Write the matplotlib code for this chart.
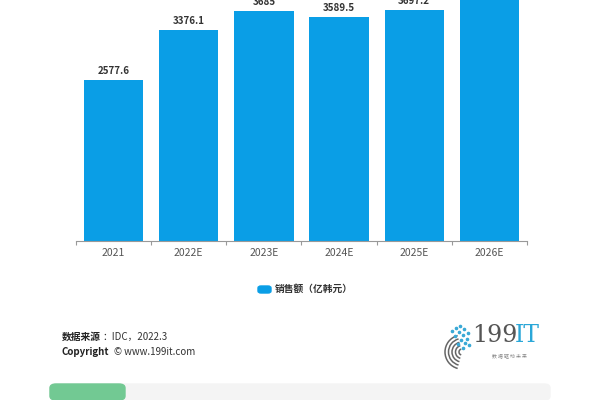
import numpy as np
import matplotlib.pyplot as plt
from matplotlib.patches import FancyBboxPatch, Arc

plt.rcParams['font.family'] = ['Noto Sans CJK SC', 'DejaVu Sans']

years = ["2021", "2022E", "2023E", "2024E", "2025E", "2026E"]
sales = [2577.6, 3376.1, 3685, 3589.5, 3697.2, 4100]
labels = ["2577.6", "3376.1", "3685", "3589.5", "3697.2", ""]

BLUE = "#0a9ee6"

fig = plt.figure(figsize=(6, 4), dpi=100)
# axes spans x 76..527 px, y 241..0 px
ax = fig.add_axes([76 / 600, 1 - 241 / 400, (527 - 76) / 600, 241 / 400])

x = np.arange(len(years))
bars = ax.bar(x, sales, width=0.79, color=BLUE, zorder=2)
for b, lab in zip(bars, labels):
    ax.text(b.get_x() + b.get_width() / 2, b.get_height() + 60, lab,
            ha="center", va="bottom", fontsize=7, fontweight="bold",
            color="#333333", clip_on=False)

ax.set_xlim(-0.5, len(years) - 0.5)
ax.set_ylim(0, 3856)
for s in ["top", "right", "left"]:
    ax.spines[s].set_visible(False)
ax.spines["bottom"].set_color("#999999")
ax.spines["bottom"].set_linewidth(0.8)
ax.set_yticks([])
ax.set_xticks(np.arange(-0.5, len(years)))
ax.set_xticklabels([])
ax.tick_params(axis="x", length=3, color="#999999", width=0.8)
ax.set_xticks(x, minor=True)
ax.set_xticklabels(years, minor=True)
ax.tick_params(axis="x", which="minor", length=0, pad=5, labelsize=7.5,
               labelcolor="#555555")

# legend
fig.patches.append(FancyBboxPatch((258 / 600, 1 - 293 / 400), 13 / 600, 7 / 400,
                                  boxstyle="round,pad=0,rounding_size=0.005",
                                  transform=fig.transFigure, color=BLUE))
fig.text(275 / 600, 1 - 289 / 400, "销售额（亿韩元）", fontsize=7, fontweight="bold",
         color="#333333", va="center", ha="left")

# source
t1 = fig.text(62 / 600, 1 - 337 / 400, "数据来源", fontsize=7, fontweight="bold",
              color="#222222", va="center")
ax.annotate("：IDC，2022.3", xy=(1, 0.5), xycoords=t1, xytext=(1, 0),
            textcoords="offset points", fontsize=7, color="#333333",
            va="center", ha="left", annotation_clip=False)
t2 = fig.text(62 / 600, 1 - 352 / 400, "Copyright", fontsize=7, fontweight="bold",
              color="#222222", va="center")
ax.annotate("© www.199it.com", xy=(1, 0.5), xycoords=t2, xytext=(3, 0),
            textcoords="offset points", fontsize=7, color="#333333",
            va="center", ha="left", annotation_clip=False)

# logo
fig.text(472 / 600, 1 - 336 / 400, "199", fontsize=17, family="DejaVu Serif",
         color="#555555", va="center", ha="left")
fig.text(515 / 600, 1 - 336 / 400, "IT", fontsize=17, family="DejaVu Serif",
         color="#2aa7d8", va="center", ha="left")
fig.text(509 / 600, 1 - 356 / 400, "数 据 驱 动 未 来", fontsize=3.5,
         color="#888888", va="center", ha="center")
for w in [34, 27, 20, 13, 6]:
    fig.patches.append(Arc((462 / 600, 1 - 352 / 400), w / 600, w / 400,
                           theta1=100, theta2=260, transform=fig.transFigure,
                           color="#666666", lw=1.1))
dots_x = np.array([456, 460, 464, 468, 459, 463, 467, 455, 461, 465, 469, 458, 463, 452])
dots_y = np.array([328, 326, 329, 333, 332, 335, 339, 336, 340, 343, 345, 344, 348, 331])
fig.add_artist(plt.Line2D(dots_x / 600, 1 - dots_y / 400, ls="none", marker="o",
                          ms=1.6, color="#3aa9d6", transform=fig.transFigure))

# bottom bar
fig.patches.append(FancyBboxPatch((50 / 600, 0), 500 / 600, 16 / 400,
                                  boxstyle="round,pad=0,rounding_size=0.01",
                                  transform=fig.transFigure, color="#f4f4f4"))
fig.patches.append(FancyBboxPatch((50 / 600, 0), 75 / 600, 16 / 400,
                                  boxstyle="round,pad=0,rounding_size=0.01",
                                  transform=fig.transFigure, color="#72c993"))

fig.savefig("out.png", dpi=100)
